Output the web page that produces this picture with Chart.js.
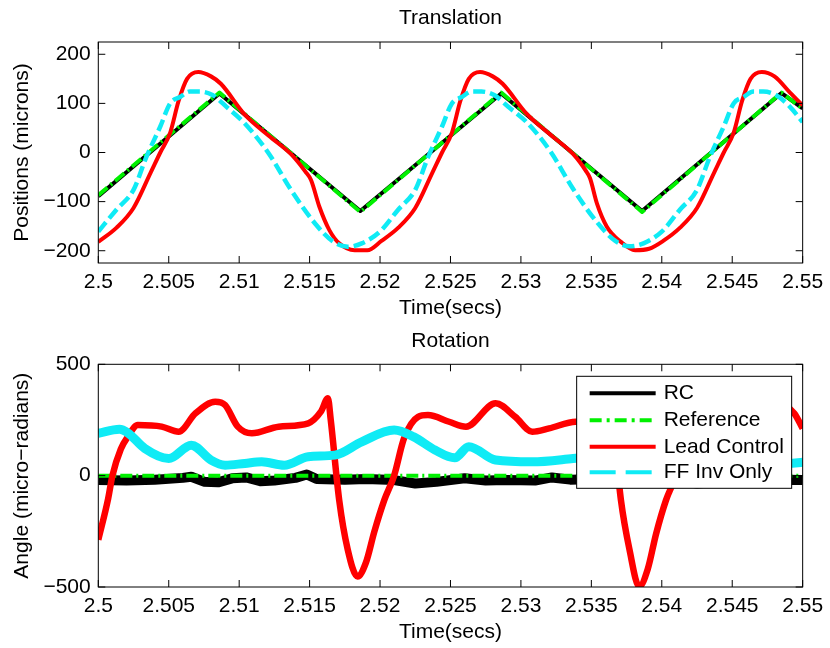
<!DOCTYPE html>
<html>
<head>
<meta charset="utf-8">
<title>Translation / Rotation</title>
<script src="https://cdn.jsdelivr.net/npm/chart.js@4.4.1/dist/chart.umd.min.js"></script>
<style>
  html, body { margin: 0; padding: 0; background: #fff; }
  #wrap { width: 830px; height: 648px; }
  canvas { display: block; }
</style>
</head>
<body>
<div id="wrap">
  <canvas id="transChart" width="830" height="324"></canvas>
  <canvas id="rotChart" width="830" height="324"></canvas>
</div>
<script>
// ticks
const xTicks = [2.5, 2.505, 2.51, 2.515, 2.52, 2.525, 2.53, 2.535, 2.54, 2.545, 2.55];
const posTicks = [-200, -100, 0, 100, 200];
const angTicks = [-500, 0, 500];
const seriesNames = ['RC', 'Reference', 'Lead Control', 'FF Inv Only'];

// Translation (microns)
const posRcTime = [2.5, 2.5086, 2.5186, 2.5286, 2.5386, 2.5485, 2.55];
const posRcVal = [-89, 120, -119, 120, -119, 121, 90];
const posRefTime = [2.5, 2.5086, 2.5186, 2.5286, 2.5386, 2.5485, 2.55];
const posRefVal = [-87, 122, -121, 122, -121, 122, 89];
const posLeadTime = [2.5, 2.5013, 2.5025, 2.5037, 2.5044, 2.5051, 2.5057, 2.5063, 2.5071, 2.508,
  2.5087, 2.5104, 2.5121, 2.5137, 2.5147, 2.5151, 2.5157, 2.5164, 2.5171, 2.5182,
  2.5191, 2.5201, 2.5213, 2.5225, 2.5237, 2.5244, 2.5251, 2.5257, 2.5263, 2.5271,
  2.528, 2.5287, 2.5304, 2.5321, 2.5337, 2.5346, 2.5349, 2.5354, 2.5361, 2.5371,
  2.5381, 2.5391, 2.5401, 2.5413, 2.5425, 2.5437, 2.5444, 2.5451, 2.5457, 2.5463,
  2.5471, 2.548, 2.5491, 2.55];
const posLeadVal = [-182, -153, -113, -42, 0, 40, 105, 150, 164, 155,
  140, 77, 34, -4, -39, -56, -111, -158, -185, -199,
  -199, -180, -153, -113, -42, 0, 40, 105, 150, 164,
  155, 140, 79, 36, -3, -37, -52, -104, -151, -182,
  -199, -196, -180, -153, -113, -42, 0, 40, 105, 150,
  164, 155, 122, 96];
const posFfTime = [2.5, 2.5013, 2.5025, 2.5034, 2.5044, 2.5051, 2.5058, 2.5065, 2.5072, 2.5081,
  2.5091, 2.5104, 2.5121, 2.5137, 2.5154, 2.5167, 2.5177, 2.5187, 2.52, 2.5213,
  2.5225, 2.5234, 2.5244, 2.5251, 2.5258, 2.5265, 2.5272, 2.5281, 2.5291, 2.5304,
  2.5321, 2.5337, 2.5354, 2.5367, 2.5377, 2.5387, 2.54, 2.5413, 2.5425, 2.5434,
  2.5444, 2.5451, 2.5458, 2.5465, 2.5472, 2.5481, 2.5491, 2.55];
const posFfVal = [-161, -116, -76, -10, 53, 100, 113, 124, 124, 117,
  93, 59, -2, -77, -145, -182, -192, -185, -161, -116,
  -76, -10, 53, 100, 113, 124, 124, 117, 93, 62,
  2, -74, -142, -180, -191, -185, -161, -116, -76, -10,
  53, 100, 113, 124, 124, 117, 93, 62];

// Rotation (micro-radians)
const angRcTime = [2.5, 2.502, 2.504, 2.506, 2.5066, 2.5075, 2.5085, 2.5095, 2.5105, 2.5115,
  2.5125, 2.514, 2.5148, 2.5155, 2.5175, 2.519, 2.521, 2.5225, 2.524, 2.526,
  2.5275, 2.529, 2.531, 2.5322, 2.5335, 2.5355, 2.5375, 2.539, 2.541, 2.5425,
  2.544, 2.546, 2.5475, 2.549, 2.55];
const angRcVal = [-20, -22, -18, -10, -5, -27, -30, -12, -8, -25,
  -22, -10, 5, -15, -18, -15, -20, -35, -28, -12,
  -22, -20, -22, -8, -18, -15, -18, -15, -20, -35,
  -28, -12, -22, -18, -20];
const angRefTime = [2.5, 2.55];
const angRefVal = [0, 0];
const angLeadTime = [2.5, 2.5007, 2.501, 2.5016, 2.5021, 2.5028, 2.5045, 2.5057, 2.5069, 2.5083,
  2.509, 2.5099, 2.5109, 2.5128, 2.5149, 2.5158, 2.5163, 2.5165, 2.5171, 2.5177,
  2.5184, 2.519, 2.5196, 2.5203, 2.521, 2.5217, 2.5227, 2.5234, 2.5249, 2.5261,
  2.5282, 2.5296, 2.5308, 2.532, 2.5339, 2.5349, 2.5358, 2.5363, 2.5365, 2.5371,
  2.5377, 2.5384, 2.539, 2.5396, 2.5403, 2.541, 2.5417, 2.5427, 2.5434, 2.5449,
  2.5461, 2.5482, 2.5494, 2.55];
const angLeadVal = [-288, -103, 0, 120, 175, 227, 220, 197, 280, 332,
  317, 220, 190, 220, 235, 287, 347, 250, -110, -330,
  -453, -390, -250, -110, 0, 167, 264, 272, 242, 220,
  325, 264, 197, 212, 242, 235, 287, 347, 250, -110,
  -330, -498, -420, -260, -110, 0, 167, 264, 272, 242,
  220, 325, 280, 212];
const angFfTime = [2.5, 2.5015, 2.5021, 2.5033, 2.505, 2.5066, 2.508, 2.509, 2.5104, 2.5116,
  2.5132, 2.5149, 2.5168, 2.5187, 2.521, 2.5224, 2.5239, 2.5253, 2.5263, 2.5282,
  2.5308, 2.5337, 2.5349, 2.5368, 2.5387, 2.541, 2.5424, 2.5439, 2.5452, 2.5465,
  2.548, 2.549, 2.55];
const angFfVal = [190, 208, 192, 122, 77, 137, 70, 47, 55, 62,
  47, 85, 92, 152, 205, 174, 115, 80, 130, 70,
  62, 77, 85, 92, 152, 205, 174, 115, 78, 135,
  70, 55, 60];

const FONT = '"Liberation Sans", Arial, Helvetica, sans-serif';
const FONT_SIZE = 21;

function puntos(tiempos, valores) {
  return tiempos.map((t, i) => ({ x: t, y: valores[i] }));
}

function menos(v) {
  return v < 0 ? '\u2212' + Math.abs(v) : String(v);
}

// box round the axes and inward tick marks, MATLAB style
const marcoEjes = {
  id: 'marcoEjes',
  afterDatasetsDraw(chart) {
    const { ctx, chartArea: a, scales } = chart;
    const len = 7;
    ctx.save();
    ctx.strokeStyle = '#000';
    ctx.lineWidth = 1;
    ctx.beginPath();
    scales.x.ticks.forEach(t => {
      const px = scales.x.getPixelForValue(t.value);
      ctx.moveTo(px, a.bottom);
      ctx.lineTo(px, a.bottom - len);
      ctx.moveTo(px, a.top);
      ctx.lineTo(px, a.top + len);
    });
    scales.y.ticks.forEach(t => {
      const py = scales.y.getPixelForValue(t.value);
      ctx.moveTo(a.left, py);
      ctx.lineTo(a.left + len, py);
      ctx.moveTo(a.right, py);
      ctx.lineTo(a.right - len, py);
    });
    ctx.stroke();
    ctx.strokeRect(a.left, a.top, a.right - a.left, a.bottom - a.top);
    ctx.restore();
  }
};

// boxed legend in the top right corner of the plot
const leyenda = {
  id: 'leyenda',
  afterDraw(chart) {
    const { ctx, chartArea: a } = chart;
    const w = 215, h = 112;
    const x0 = a.right - 11 - w;
    const y0 = a.top + 12;
    const filas = [17, 44, 70.5, 96];
    ctx.save();
    ctx.fillStyle = '#fff';
    ctx.fillRect(x0, y0, w, h);
    ctx.strokeStyle = '#000';
    ctx.lineWidth = 1;
    ctx.strokeRect(x0, y0, w, h);
    ctx.font = FONT_SIZE + 'px ' + FONT;
    ctx.textBaseline = 'middle';
    chart.data.datasets.forEach((ds, i) => {
      const y = y0 + filas[i];
      ctx.strokeStyle = ds.borderColor;
      ctx.lineWidth = 4;
      ctx.setLineDash(ds.legendDash || []);
      ctx.beginPath();
      ctx.moveTo(x0 + 13, y);
      ctx.lineTo(x0 + 79, y);
      ctx.stroke();
      ctx.setLineDash([]);
      ctx.fillStyle = '#000';
      ctx.fillText(ds.label, x0 + 87, y);
    });
    ctx.restore();
  }
};

function ejeX() {
  return {
    type: 'linear',
    min: 2.5,
    max: 2.55,
    afterBuildTicks: s => { s.ticks = xTicks.map(v => ({ value: v })); },
    afterFit: s => { s.height = 61; },
    grid: { display: false, drawTicks: false },
    border: { display: false },
    ticks: { padding: 6.9, maxRotation: 0, autoSkip: false, color: '#000',
      callback: v => String(+v.toFixed(3)) },
    title: { display: true, text: 'Time(secs)', color: '#000', padding: { top: 0, bottom: 3.4 } }
  };
}

function ejeY(min, max, ticks, titulo) {
  return {
    type: 'linear',
    min: min,
    max: max,
    afterBuildTicks: s => { s.ticks = ticks.map(v => ({ value: v })); },
    afterFit: s => { s.width = 98.3; },
    grid: { display: false, drawTicks: false },
    border: { display: false },
    ticks: { padding: 7.6, color: '#000', callback: menos },
    title: { display: true, text: titulo, color: '#000', padding: { top: 9.4, bottom: 0 } }
  };
}

function crearGrafico(id, titulo, tituloPad, datasets, yEje, extras) {
  const ctx = document.getElementById(id).getContext('2d');
  return new Chart(ctx, {
    type: 'line',
    data: { datasets: datasets },
    options: {
      responsive: false,
      animation: false,
      devicePixelRatio: 1,
      layout: { padding: { left: 0, right: 26, top: 0, bottom: 0 } },
      elements: { point: { radius: 0 }, line: { borderCapStyle: 'butt', borderJoinStyle: 'round' } },
      scales: { x: ejeX(), y: yEje },
      plugins: {
        legend: { display: false },
        tooltip: { enabled: false },
        title: {
          display: true,
          fullSize: false,
          text: titulo,
          color: '#000',
          font: { size: FONT_SIZE, weight: 'normal' },
          padding: tituloPad
        }
      }
    },
    plugins: [marcoEjes].concat(extras)
  });
}

Chart.defaults.font.family = FONT;
Chart.defaults.font.size = FONT_SIZE;
Chart.defaults.color = '#000';

const NEGRO = '#000000';
const VERDE = 'rgb(0, 240, 0)';
const ROJO = 'rgb(255, 0, 0)';
const CIAN = 'rgb(15, 235, 245)';

crearGrafico('transChart', 'Translation', { top: 5.4, bottom: 11.4 }, [
  { label: seriesNames[0], data: puntos(posRcTime, posRcVal), borderColor: NEGRO, borderWidth: 4, order: 4 },
  { label: seriesNames[1], data: puntos(posRefTime, posRefVal), borderColor: VERDE, borderWidth: 4,
    borderDash: [12, 4, 2, 4], order: 3 },
  { label: seriesNames[2], data: puntos(posLeadTime, posLeadVal), borderColor: ROJO, borderWidth: 4,
    cubicInterpolationMode: 'monotone', order: 2 },
  { label: seriesNames[3], data: puntos(posFfTime, posFfVal), borderColor: CIAN, borderWidth: 4.5,
    borderDash: [12, 5], cubicInterpolationMode: 'monotone', order: 1 }
], ejeY(-225, 225, posTicks, 'Positions (microns)'), []);

crearGrafico('rotChart', 'Rotation', { top: 4.4, bottom: 10.7 }, [
  { label: seriesNames[0], data: puntos(angRcTime, angRcVal), borderColor: NEGRO, borderWidth: 10,
    order: 4 },
  { label: seriesNames[1], data: puntos(angRefTime, angRefVal), borderColor: VERDE, borderWidth: 4,
    borderDash: [12, 4, 2, 4], legendDash: [12, 5, 3, 5], order: 3 },
  { label: seriesNames[2], data: puntos(angLeadTime, angLeadVal), borderColor: ROJO, borderWidth: 6.5,
    cubicInterpolationMode: 'monotone', order: 2 },
  { label: seriesNames[3], data: puntos(angFfTime, angFfVal), borderColor: CIAN, borderWidth: 9,
    legendDash: [26, 10], cubicInterpolationMode: 'monotone', order: 1 }
], ejeY(-500, 500, angTicks, 'Angle (micro\u2212radians)'), [leyenda]);
</script>
</body>
</html>
